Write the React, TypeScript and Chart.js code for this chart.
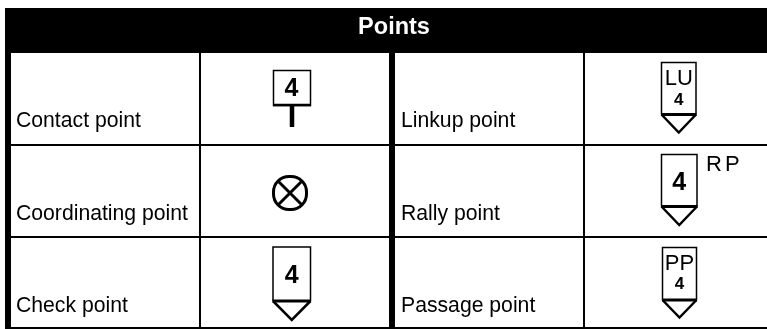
import React, { useEffect, useRef } from "react";
import { Chart, registerables } from "chart.js";

Chart.register(...registerables);

// ---- content ----
const tableTitle = "Points";
const leftNames = ["Contact point", "Coordinating point", "Check point"];
const rightNames = ["Linkup point", "Rally point", "Passage point"];
const leftKinds = ["flag", "circle", "pennant"];
const rightKinds = ["pennant", "pennant", "pennant"];
const leftCodes = ["", "", ""];
const rightCodes = ["LU", "", "PP"];
const sideCodes = ["", "RP", ""];
const leftNumbers = ["4", "", "4"];
const rightNumbers = ["4", "4", "4"];

// ---- table grid, in the page's own units ----
const columnEdges = [8, 200, 392, 584];
const rowEdges = [145, 237, 328];
const rowMiddles = [99, 191, 283];
const leftSymbolX = 291;
const rightSymbolX = 679;
const leftTextX = 16;
const rightTextX = 401;
const labelRise = [18, 17, 16];

const FONT = '"Liberation Sans", Arial, sans-serif';

type Shape = { l: number; r: number; top: number; bar: number; apex: number; code?: number; num: number; numPx: number; numBold: boolean };
const pennantShapes: Record<string, Shape> = {
  "pennant-0-right": { l: -17.5, r: 17, top: -36.5, bar: 15.5, apex: 33.5, code: -14, num: 6, numPx: 17, numBold: true },
  "pennant-1-right": { l: -17.5, r: 18, top: -36.5, bar: 15.5, apex: 34, num: -1, numPx: 25, numBold: true },
  "pennant-2-right": { l: -16.5, r: 17.5, top: -35.5, bar: 17, apex: 34.5, code: -13, num: 6, numPx: 17, numBold: true },
  "pennant-2-left": { l: -18, r: 19.5, top: -36, bar: 18, apex: 37, num: 0, numPx: 25, numBold: true },
};

function drawPennant(ctx: CanvasRenderingContext2D, x: number, y: number, s: Shape, code: string, num: string) {
  ctx.strokeStyle = "#000";
  ctx.fillStyle = "#000";
  ctx.lineWidth = 1.5;
  ctx.lineJoin = "miter";
  ctx.beginPath();
  ctx.moveTo(x + s.l, y + s.bar);
  ctx.lineTo(x + s.l, y + s.top);
  ctx.lineTo(x + s.r, y + s.top);
  ctx.lineTo(x + s.r, y + s.bar);
  ctx.stroke();
  ctx.lineWidth = 3;
  ctx.beginPath();
  ctx.moveTo(x + s.l - 0.5, y + s.bar);
  ctx.lineTo(x + s.r + 0.5, y + s.bar);
  ctx.stroke();
  ctx.lineWidth = 2.5;
  ctx.beginPath();
  ctx.moveTo(x + s.l, y + s.bar);
  ctx.lineTo(x + (s.l + s.r) / 2, y + s.apex);
  ctx.lineTo(x + s.r, y + s.bar);
  ctx.stroke();
  ctx.textAlign = "center";
  ctx.textBaseline = "alphabetic";
  if (code && s.code !== undefined) {
    ctx.font = `22px ${FONT}`;
    ctx.fillText(code, x + (s.l + s.r) / 2, y + s.code);
  }
  if (num) {
    ctx.font = `${s.numBold ? "bold " : ""}${s.numPx}px ${FONT}`;
    ctx.fillText(num, x + (s.l + s.r) / 2, y + s.num);
  }
}

function drawFlag(ctx: CanvasRenderingContext2D, x: number, y: number, num: string) {
  ctx.strokeStyle = "#000";
  ctx.fillStyle = "#000";
  ctx.lineWidth = 1.5;
  ctx.strokeRect(x - 17.5, y - 28.5, 37, 35);
  ctx.lineWidth = 2.5;
  ctx.beginPath();
  ctx.moveTo(x - 18, y + 6);
  ctx.lineTo(x + 20, y + 6);
  ctx.stroke();
  ctx.lineWidth = 4.5;
  ctx.beginPath();
  ctx.moveTo(x + 1, y + 6);
  ctx.lineTo(x + 1, y + 28);
  ctx.stroke();
  ctx.font = `bold 25px ${FONT}`;
  ctx.textAlign = "center";
  ctx.textBaseline = "alphabetic";
  ctx.fillText(num, x + 0.5, y - 3);
}

function drawCircle(ctx: CanvasRenderingContext2D, x: number, y: number) {
  const cx = x - 1;
  const cy = y + 2;
  ctx.strokeStyle = "#000";
  ctx.lineWidth = 3;
  ctx.beginPath();
  (ctx as any).roundRect(cx - 16.5, cy - 16.5, 33, 33, 15.5);
  ctx.stroke();
  const d = 12;
  ctx.beginPath();
  ctx.moveTo(cx - d, cy - d);
  ctx.lineTo(cx + d, cy + d);
  ctx.moveTo(cx + d, cy - d);
  ctx.lineTo(cx - d, cy + d);
  ctx.stroke();
}

const tablePlugin = {
  id: "pointsTable",
  afterDatasetsDraw(chart: any) {
    const { ctx, scales } = chart;
    const xs = scales.x;
    const ys = scales.y;
    ctx.save();
    // header band
    ctx.fillStyle = "#000";
    ctx.fillRect(xs.getPixelForValue(5), ys.getPixelForValue(8), xs.getPixelForValue(767) - xs.getPixelForValue(5), ys.getPixelForValue(53) - ys.getPixelForValue(8));
    ctx.fillStyle = "#fff";
    ctx.font = `bold 23.5px ${FONT}`;
    ctx.textAlign = "center";
    ctx.textBaseline = "alphabetic";
    ctx.fillText(tableTitle, xs.getPixelForValue(394), ys.getPixelForValue(34));

    // row names
    ctx.fillStyle = "#000";
    ctx.font = `21.2px ${FONT}`;
    ctx.textAlign = "left";
    rowEdges.forEach((edge, i) => {
      const by = ys.getPixelForValue(edge - labelRise[i]);
      ctx.fillText(leftNames[i], xs.getPixelForValue(leftTextX), by);
      ctx.fillText(rightNames[i], xs.getPixelForValue(rightTextX), by);
    });

    // symbols, anchored on their dataset points
    chart.data.datasets.forEach((ds: any, di: number) => {
      const side = ds.label as string;
      chart.getDatasetMeta(di).data.forEach((pt: any, i: number) => {
        const kind = ds.kinds[i];
        const key = `${kind}-${i}-${side}`;
        if (kind === "flag") drawFlag(ctx, pt.x, pt.y, ds.numbers[i]);
        else if (kind === "circle") drawCircle(ctx, pt.x, pt.y);
        else drawPennant(ctx, pt.x, pt.y, pennantShapes[key], ds.codes[i], ds.numbers[i]);
        if (side === "right" && sideCodes[i]) {
          ctx.fillStyle = "#000";
          ctx.font = `22px ${FONT}`;
          ctx.textAlign = "left";
          (ctx as any).letterSpacing = "3px";
          ctx.fillText(sideCodes[i], pt.x + 27, pt.y - 20);
          (ctx as any).letterSpacing = "0px";
        }
      });
    });
    ctx.restore();
  },
};

export default function App() {
  const ref = useRef<HTMLCanvasElement | null>(null);
  useEffect(() => {
    if (!ref.current) return;
    const thick = (v: number) => (v === 8 || v === 392 ? 6 : 2);
    const chart = new Chart(ref.current, {
      type: "scatter",
      data: {
        datasets: [
          { label: "left", kinds: leftKinds, codes: leftCodes, numbers: leftNumbers, data: rowMiddles.map((y) => ({ x: leftSymbolX, y })), pointRadius: 0 } as any,
          { label: "right", kinds: rightKinds, codes: rightCodes, numbers: rightNumbers, data: rowMiddles.map((y) => ({ x: rightSymbolX, y })), pointRadius: 0 } as any,
        ],
      },
      options: {
        responsive: false,
        animation: false,
        layout: { padding: { left: 5, top: 8, right: 0, bottom: 0 } },
        plugins: { legend: { display: false }, tooltip: { enabled: false }, title: { display: false } },
        scales: {
          x: {
            type: "linear",
            min: 5,
            max: 767,
            afterBuildTicks: (axis: any) => { axis.ticks = columnEdges.map((value) => ({ value })); },
            ticks: { display: false, autoSkip: false },
            border: { display: false },
            grid: { color: "#000", drawTicks: false, tickLength: 0, lineWidth: (c: any) => thick(c.tick?.value) },
          },
          y: {
            type: "linear",
            reverse: true,
            min: 8,
            max: 329,
            afterBuildTicks: (axis: any) => { axis.ticks = rowEdges.map((value) => ({ value })); },
            ticks: { display: false, autoSkip: false },
            border: { display: false },
            grid: { color: "#000", drawTicks: false, tickLength: 0, lineWidth: 2 },
          },
        },
      },
      plugins: [tablePlugin],
    } as any);
    return () => chart.destroy();
  }, []);
  return <canvas ref={ref} width={767} height={329} style={{ position: "absolute", left: 0, top: 0, display: "block" }} />;
}
